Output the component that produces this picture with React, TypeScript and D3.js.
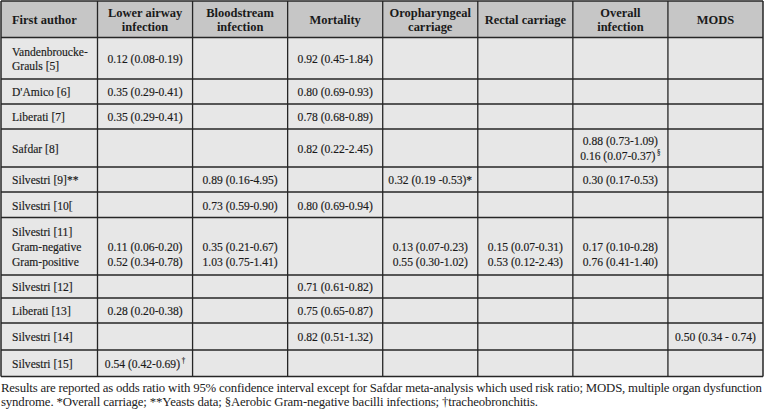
import React from "react";
import * as d3 from "d3";

const headers = ["First author", "Lower airway\ninfection", "Bloodstream\ninfection", "Mortality", "Oropharyngeal\ncarriage", "Rectal carriage", "Overall\ninfection", "MODS"];

const authors = ["Vandenbroucke-\nGrauls [5]", "D'Amico [6]", "Liberati [7]", "Safdar [8]", "Silvestri [9]**", "Silvestri [10[", "Silvestri [11]\nGram-negative\nGram-positive", "Silvestri [12]", "Liberati [13]", "Silvestri [14]", "Silvestri [15]"];
const lowerAirway = ["0.12 (0.08-0.19)", "0.35 (0.29-0.41)", "0.35 (0.29-0.41)", "", "", "", "\n0.11 (0.06-0.20)\n0.52 (0.34-0.78)", "", "0.28 (0.20-0.38)", "", "0.54 (0.42-0.69)^†"];
const bloodstream = ["", "", "", "", "0.89 (0.16-4.95)", "0.73 (0.59-0.90)", "\n0.35 (0.21-0.67)\n1.03 (0.75-1.41)", "", "", "", ""];
const mortality = ["0.92 (0.45-1.84)", "0.80 (0.69-0.93)", "0.78 (0.68-0.89)", "0.82 (0.22-2.45)", "", "0.80 (0.69-0.94)", "", "0.71 (0.61-0.82)", "0.75 (0.65-0.87)", "0.82 (0.51-1.32)", ""];
const oropharyngeal = ["", "", "", "", "0.32 (0.19 -0.53)*", "", "\n0.13 (0.07-0.23)\n0.55 (0.30-1.02)", "", "", "", ""];
const rectal = ["", "", "", "", "", "", "\n0.15 (0.07-0.31)\n0.53 (0.12-2.43)", "", "", "", ""];
const overall = ["", "", "", "0.88 (0.73-1.09)\n0.16 (0.07-0.37)^§", "0.30 (0.17-0.53)", "", "\n0.17 (0.10-0.28)\n0.76 (0.41-1.40)", "", "", "", ""];
const mods = ["", "", "", "", "", "", "", "", "", "0.50 (0.34 - 0.74)", ""];

const footnote1 = "Results are reported as odds ratio with 95% confidence interval except for Safdar meta-analysis which used risk ratio; MODS, multiple organ dysfunction";
const footnote2 = "syndrome. *Overall carriage; **Yeasts data; §Aerobic Gram-negative bacilli infections; †tracheobronchitis.";

// layout
const rowBounds = [1, 37.5, 79, 104, 129, 167, 192, 217.5, 275, 298, 323, 350, 376.5];
const firstColLeft = 1;
const firstColRight = 97.5;
const tableRight = 763;

const FONT = "Liberation Serif, DejaVu Serif, serif";
const FS = 13.3;
const SX = 0.87;
const HFS = 12;
const SXB = 1.04;
const LINE_GAP = 14.8;

function Cell({ x, cy, text, anchor, bold }: { x: number; cy: number; text: string; anchor: string; bold?: boolean }) {
  const lines = text.split("\n");
  const n = lines.length;
  const gap = bold ? 13.6 : LINE_GAP;
  return (
    <g>
      {lines.map((ln, i) => {
        const [main, sup] = ln.split("^");
        const y = cy + (i - (n - 1) / 2) * gap + (bold ? 4.2 : 4.8);
        return (
          <text
            key={i}
            transform={`translate(${x},${y}) scale(${bold ? SXB : SX},1)`}
            textAnchor={anchor}
            style={{ fontFamily: FONT, fontSize: bold ? HFS : FS, fontWeight: bold ? 700 : 400 }}
            fill="#1a1a1a"
            stroke="#1a1a1a"
            strokeWidth={bold ? 0 : 0.18}
          >
            {main}
            {sup ? (
              <tspan style={{ fontSize: 8 }} dy={-5} dx={2}>{sup}</tspan>
            ) : null}
          </text>
        );
      })}
    </g>
  );
}

export default function App() {
  const columns = [lowerAirway, bloodstream, mortality, oropharyngeal, rectal, overall, mods];
  const x = d3
    .scaleBand<number>()
    .domain(d3.range(columns.length))
    .range([firstColRight, tableRight])
    .paddingInner(0)
    .paddingOuter(0);
  const rowTop = (i: number) => rowBounds[i + 1];
  const rowBottom = (i: number) => rowBounds[i + 2];
  const colEdges = [firstColLeft, ...d3.range(columns.length).map((c) => x(c)!), tableRight];
  const lineColor = "#262626";

  return (
    <svg
      width={764}
      height={414}
      style={{ position: "absolute", left: 0, top: 0, background: "#ffffff" }}
    >
      <rect x={firstColLeft} y={rowBounds[0]} width={tableRight - firstColLeft} height={rowBounds[1] - rowBounds[0]} fill="#c6c6c6" />
      <rect x={firstColLeft} y={rowBounds[1]} width={tableRight - firstColLeft} height={rowBounds[rowBounds.length - 1] - rowBounds[1]} fill="#e7e7e7" />

      {rowBounds.map((y, i) => (
        <line key={"h" + i} x1={firstColLeft} x2={tableRight} y1={y} y2={y} stroke={lineColor} strokeWidth={i === 0 || i === rowBounds.length - 1 ? 1.5 : 1.3} />
      ))}
      {colEdges.map((cx, i) => (
        <line key={"v" + i} x1={cx} x2={cx} y1={rowBounds[0]} y2={rowBounds[rowBounds.length - 1]} stroke={lineColor} strokeWidth={i === 0 || i === colEdges.length - 1 ? 1.5 : 1.3} />
      ))}

      {headers.map((h, i) => {
        const cy = (rowBounds[0] + rowBounds[1]) / 2 + 0.5;
        if (i === 0) return <Cell key={"hd" + i} x={12} cy={cy} text={h} anchor="start" bold />;
        const cx = x(i - 1)! + x.bandwidth() / 2;
        return <Cell key={"hd" + i} x={cx} cy={cy} text={h} anchor="middle" bold />;
      })}

      {authors.map((a, r) => {
        const cy = (rowTop(r) + rowBottom(r)) / 2;
        return <Cell key={"a" + r} x={12} cy={cy} text={a} anchor="start" />;
      })}

      {columns.map((col, c) =>
        col.map((v, r) => {
          if (!v) return null;
          const cy = (rowTop(r) + rowBottom(r)) / 2;
          const cx = x(c)! + x.bandwidth() / 2;
          return <Cell key={`c${c}-${r}`} x={cx} cy={cy} text={v} anchor="middle" />;
        })
      )}

      <text x={1} y={392} style={{ fontFamily: FONT, fontSize: 12.8 }} fill="#222" textLength={761} lengthAdjust="spacing">
        {footnote1}
      </text>
      <text x={1} y={405.5} style={{ fontFamily: FONT, fontSize: 12.8 }} fill="#222" textLength={537} lengthAdjust="spacing">
        {footnote2}
      </text>
    </svg>
  );
}
